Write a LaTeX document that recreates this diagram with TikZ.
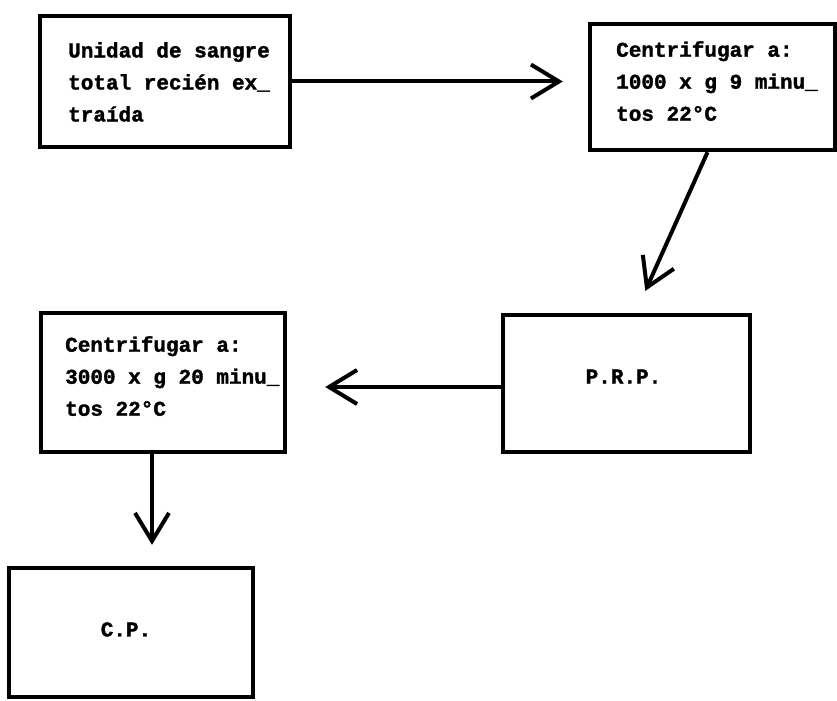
\documentclass[tikz,border=0pt]{standalone}
\usepackage{fontspec}
\newfontfamily\typefont[BoldFeatures={FakeBold=1.6}]{Liberation Mono}
\usepackage{tikz}
\usetikzlibrary{arrows.meta, positioning, calc}

\begin{document}
\begin{tikzpicture}[
    x=0.5pt, y=-0.5pt,
    box/.style={draw, line width=2.2pt, inner sep=0pt,
                font=\fontsize{10.5pt}{16pt}\selectfont\typefont\bfseries},
    txt/.style={font=\fontsize{10.5pt}{16pt}\selectfont\typefont\bfseries,
                align=left, inner sep=0pt, anchor=north west},
    arr/.style={-{Straight Barb[length=14pt, width=17pt]}, line width=2pt}
]
\useasboundingbox (0,0) rectangle (837,701);

\node[box, minimum width=125pt, minimum height=65.5pt] (sangre) at (165,81.5) {};
\node[box, minimum width=122.5pt, minimum height=63pt] (cen1) at (712.5,87) {};
\node[box, minimum width=123.5pt, minimum height=68.5pt] (prp) at (626.5,383.5) {};
\node[box, minimum width=122pt, minimum height=69.5pt] (cen2) at (163,382.5) {};
\node[box, minimum width=122pt, minimum height=64.5pt] (cp) at (131,632.5) {};

% texts inside the boxes
\node[txt] (t-sangre) at ([shift={(30,28)}]sangre.north west) {Unidad de sangre\\total recién ex\_\\traída};
\node[txt] (t-cen1) at ([shift={(28,19)}]cen1.north west) {Centrifugar a:\\1000 x g 9 minu\_\\tos 22°C};
\node[txt] (t-cen2) at ([shift={(26,25)}]cen2.north west) {Centrifugar a:\\3000 x g 20 minu\_\\tos 22°C};
\node[txt, anchor=center] (t-prp) at ([shift={(-3,-7)}]prp.center) {P.R.P.};
\node[txt, anchor=center] (t-cp) at ([shift={(-5,-3)}]cp.center) {C.P.};

\draw[arr, shorten >=12.5pt] (sangre.east) -- (sangre.east -| cen1.west);
\draw[arr, shorten >=12pt] ([xshift=-2.5pt]cen1.south) -- ([xshift=4.5pt]prp.north);
\draw[arr, shorten >=19pt] ([yshift=-1.75pt]prp.west) -- ([yshift=-1.75pt]prp.west -| cen2.east);
\draw[arr, shorten >=10.5pt] ([xshift=-5.5pt]cen2.south) -- ([xshift=-5.5pt]cen2.south |- cp.north);
\end{tikzpicture}
\end{document}
